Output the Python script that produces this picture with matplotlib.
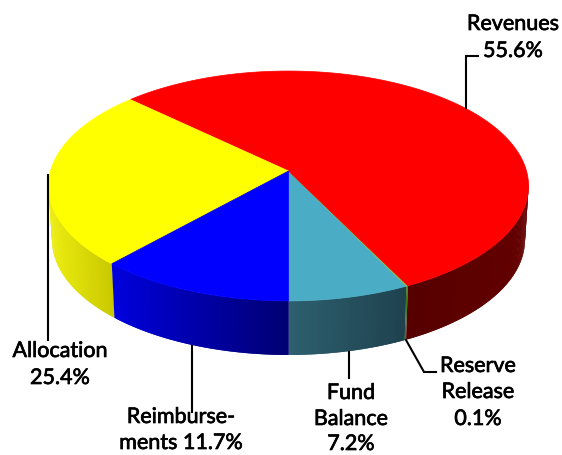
import numpy as np
import matplotlib
matplotlib.use("Agg")
import matplotlib.pyplot as plt
import matplotlib.patheffects as pe

labels = ["Fund Balance", "Reserve Release", "Revenues", "Allocation", "Reimbursements"]
values = [7.2, 0.1, 55.6, 25.4, 11.7]
top_colors = ["#4BACC6", "#7FC65A", "#FF0000", "#FFFF00", "#0000FF"]
wall_left = ["#2D5F6E", "#3F7A20", "#560000", "#EDED10", "#0000DC"]
wall_right = ["#1F414E", "#3F7A20", "#640000", "#C8C800", "#000070"]
label_text = [
    (["Fund", "Balance", "7.2%"], 351, [399, 425, 450]),
    (["Reserve", "Release", "0.1%"], 478, [372, 398, 425]),
    (["Revenues", "55.6%"], 513, [30, 57]),
    (["Allocation", "25.4%"], 60, [357, 384]),
    (["Reimburse-", "ments 11.7%"], 181, [423, 449]),
]
leaders = [
    ([349, 349], [352, 378]),
    ([406, 424, 436], [340, 372, 372]),
    ([466, 466, 478], [108, 56, 56]),
    ([48, 48], [175, 340]),
    ([192, 192], [346, 412]),
]

CX, CY = 288.5, 171.0
A, B, K = 113.0, 238.0, 0.1304
XS_BOTTOM, YS_BOTTOM, Y_OFF = 0.985, 1.0, 54.0
VIS = np.degrees(np.arccos(K))


def top(phi):
    p = np.radians(phi)
    u, v = np.sin(p), -np.cos(p)
    d = 1 + K * v
    return CX + B * u / d, CY - A * v / d


def bottom(phi):
    x, y = top(phi)
    return CX + (x - CX) * XS_BOTTOM, CY + (y - CY) * YS_BOTTOM + Y_OFF


def hex2rgb(h):
    return np.array(matplotlib.colors.to_rgb(h))


fig = plt.figure(figsize=(5.62, 4.55), dpi=100)
ax = fig.add_axes([0, 0, 1, 1])
ax.set_xlim(0, 562)
ax.set_ylim(455, 0)
ax.axis("off")

edges = np.concatenate([[0], np.cumsum(values)]) * 3.6

# walls: each gradient strip is painted over the tail of the previous one
for i, val in enumerate(values):
    a0, a1 = edges[i], edges[i + 1]
    for lo, hi in ((0, VIS + 2), (360 - VIS - 2, 360)):
        s, e = max(a0, lo), min(a1, hi)
        if e <= s:
            continue
        phis = np.linspace(s, e, max(2, int((e - s) * 2) + 1))
        xs = top(phis)[0]
        xmin, xmax = xs.min(), xs.max()
        c0, c1 = hex2rgb(wall_left[i]), hex2rgb(wall_right[i])
        for j in range(len(phis) - 1, 0, -1):
            p_far, p_near = phis[j], phis[j - 1]
            p_ext = phis[min(j + 1, len(phis) - 1)]
            xt0, yt0 = top(p_near)
            xt1, yt1 = top(p_far)
            xb0, yb0 = bottom(p_near)
            xb1, yb1 = bottom(p_far)
            t = ((xt0 + xt1) / 2 - xmin) / max(xmax - xmin, 1e-6)
            col = c0 + (c1 - c0) * t
            xte, yte = top(p_ext)
            xbe, ybe = bottom(p_ext)
            ax.fill([xt0, xt1, xte, xbe, xb1, xb0], [yt0, yt1, yte, ybe, yb1, yb0],
                    facecolor=col, edgecolor="none", zorder=2 + i * 0.01)

# top surface
for i, val in enumerate(values):
    phis = np.linspace(edges[i], edges[i + 1], max(2, int(val * 8)))
    x, y = top(phis)
    ax.fill(np.r_[CX, x], np.r_[CY, y], facecolor=top_colors[i],
            edgecolor=top_colors[i], lw=0.5, zorder=3)

for xs, ys in leaders:
    ax.plot(xs, ys, color="black", lw=1.5, zorder=4, solid_joinstyle="miter")

for lines, x, ys in label_text:
    for line, y in zip(lines, ys):
        t = ax.text(x, y, line, ha="center", va="baseline", fontsize=15.5,
                    family="Lato", color="black", zorder=5)
        t.set_path_effects([pe.withStroke(linewidth=0.5, foreground="black")])

fig.savefig("out.png", dpi=100)
